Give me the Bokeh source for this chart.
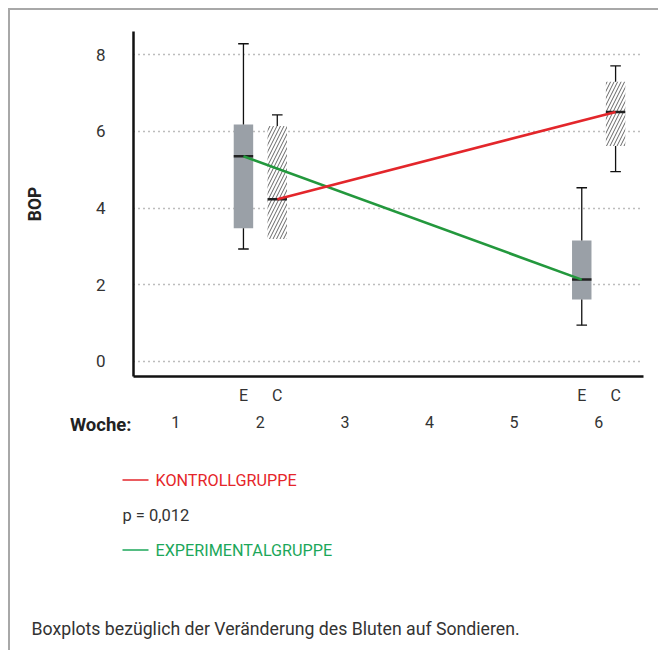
from bokeh.plotting import figure
from bokeh.models import Range1d, LinearAxis, FixedTicker
from bokeh.layouts import column
from bokeh.embed import file_html
from bokeh.resources import INLINE
from bokeh.core.properties import value

# ---------------- data ----------------
weeks = [1, 2, 3, 4, 5, 6]
week_labels = ["1", "2", "3", "4", "5", "6"]
measured_weeks = [2, 6]
group_labels = ["E", "C"]
y_ticks = [0, 2, 4, 6, 8]

# Experimental group (E)
exp_whisker_high = [8.29, 4.53]
exp_q3 = [6.18, 3.15]
exp_median = [5.35, 2.13]
exp_q1 = [3.47, 1.61]
exp_whisker_low = [2.93, 0.94]

# Control group (C)
ctl_whisker_high = [6.43, 7.71]
ctl_q3 = [6.14, 7.30]
ctl_median = [4.23, 6.51]
ctl_q1 = [3.19, 5.62]
ctl_whisker_low = [float("nan"), 4.95]

legend_control = "KONTROLLGRUPPE"
legend_p = "p = 0,012"
legend_exp = "EXPERIMENTALGRUPPE"
caption = "Boxplots bezüglich der Veränderung des Bluten auf Sondieren."
x_title = "Woche:"
y_title = "BOP"

# ---------------- style ----------------
FONT = "Roboto"
TXT = "#333333"
RED = "#e3262b"
GREEN = "#23983d"
RED_T = "#e5252a"
GREEN_T = "#1ca75a"
BOX_GRAY = "#9aa0a7"
OFF = {"E": -0.2, "C": 0.2}
BOX_W = 0.23
CAP_W = 0.125

W = 648
H1 = 440
OVERLAP = 45
H2 = 245

xe = [w + OFF["E"] for w in measured_weeks]
xc = [w + OFF["C"] for w in measured_weeks]

p = figure(width=W, height=H1, x_range=Range1d(0.5, 6.53), y_range=Range1d(-0.40, 8.61),
           output_backend="svg", toolbar_location=None,
           min_border_left=123, min_border_right=15, min_border_top=21, min_border_bottom=74)
p.frame_align = False
p.outline_line_color = None
p.background_fill_color = "white"
p.border_fill_color = "white"

# grid
p.xgrid.visible = False
p.ygrid.ticker = FixedTicker(ticks=y_ticks)
p.ygrid.grid_line_color = "#7a7a7a"
p.ygrid.grid_line_dash = "1 4"
p.ygrid.grid_line_width = 1.3

# y axis
ya = p.yaxis[0]
ya.ticker = FixedTicker(ticks=y_ticks)
ya.major_label_overrides = {t: str(t) for t in y_ticks}
ya.axis_line_color = "#111111"
ya.axis_line_width = 2.5
ya.major_tick_in = 0
ya.major_tick_out = 0
ya.minor_tick_in = 0
ya.minor_tick_out = 0
ya.major_label_standoff = 28
ya.major_label_text_font = FONT
ya.major_label_text_font_size = "17px"
ya.major_label_text_color = TXT
ya.axis_label = y_title
ya.axis_label_text_font = FONT
ya.axis_label_text_font_style = "bold"
ya.axis_label_text_font_size = "17.5px"
ya.axis_label_text_color = "#222222"
ya.axis_label_standoff = 48

# x axis: E / C
xa = p.xaxis[0]
ec_ticks = xe + xc
ec_labels = {}
for x in xe:
    ec_labels[x] = group_labels[0]
for x in xc:
    ec_labels[x] = group_labels[1]
xa.ticker = FixedTicker(ticks=ec_ticks)
xa.major_label_overrides = ec_labels
xa.axis_line_color = "#111111"
xa.axis_line_width = 2.5
xa.major_tick_in = 0
xa.major_tick_out = 0
xa.minor_tick_in = 0
xa.minor_tick_out = 0
xa.major_label_standoff = 9
xa.major_label_text_font = FONT
xa.major_label_text_font_size = "16px"
xa.major_label_text_color = TXT

# x axis: weeks
wa = LinearAxis(ticker=FixedTicker(ticks=weeks),
                major_label_overrides={w: l for w, l in zip(weeks, week_labels)})
wa.axis_line_color = None
wa.major_tick_in = 0
wa.major_tick_out = 0
wa.minor_tick_in = 0
wa.minor_tick_out = 0
wa.major_label_standoff = 8
wa.major_label_text_font = FONT
wa.major_label_text_font_size = "16px"
wa.major_label_text_color = TXT
p.add_layout(wa, "below")

# boxes
p.vbar(x=xe, width=BOX_W, bottom=exp_q1, top=exp_q3, fill_color=BOX_GRAY, line_color=None)
p.vbar(x=xc, width=BOX_W, bottom=ctl_q1, top=ctl_q3, fill_color="white", line_color=None,
       hatch_pattern="/", hatch_color="#666666", hatch_scale=7, hatch_weight=1)

# whiskers
for xs, hi, q3, q1, lo in [(xe, exp_whisker_high, exp_q3, exp_q1, exp_whisker_low),
                           (xc, ctl_whisker_high, ctl_q3, ctl_q1, ctl_whisker_low)]:
    p.segment(x0=xs, y0=q3, x1=xs, y1=hi, line_color="#111111", line_width=1.3)
    p.segment(x0=[x - CAP_W / 2 for x in xs], y0=hi, x1=[x + CAP_W / 2 for x in xs], y1=hi,
              line_color="#111111", line_width=1.3)
    p.segment(x0=xs, y0=q1, x1=xs, y1=lo, line_color="#111111", line_width=1.3)
    p.segment(x0=[x - CAP_W / 2 for x in xs], y0=lo, x1=[x + CAP_W / 2 for x in xs], y1=lo,
              line_color="#111111", line_width=1.3)

# medians
p.segment(x0=[x - BOX_W / 2 for x in xe], y0=exp_median, x1=[x + BOX_W / 2 for x in xe], y1=exp_median,
          line_color="#222222", line_width=2.5)
p.segment(x0=[x - BOX_W / 2 for x in xc], y0=ctl_median, x1=[x + BOX_W / 2 for x in xc], y1=ctl_median,
          line_color="#222222", line_width=2.5)

# trend lines
p.line(x=xe, y=exp_median, line_color=GREEN, line_width=2.6)
p.line(x=xc, y=ctl_median, line_color=RED, line_width=2.6)

# ---------------- overlay: "Woche:", legend, caption ----------------
p2 = figure(width=W, height=H2, x_range=Range1d(0, W), y_range=Range1d(H2, 0),
            output_backend="svg", toolbar_location=None, min_border=0,
            min_border_left=0, min_border_right=0, min_border_top=0, min_border_bottom=0,
            x_axis_location=None, y_axis_location=None)
p2.frame_align = False
p2.grid.visible = False
p2.outline_line_color = None
p2.background_fill_color = None
p2.border_fill_color = None
p2.styles = {"margin-top": f"-{OVERLAP}px"}

p2.text(x=[121], y=[19], text=[x_title], text_color="#222222", text_font=value(FONT),
        text_font_style="bold", text_font_size="18.5px", text_baseline="middle", text_align="right")
p2.segment(x0=[112], y0=[74.5], x1=[138], y1=[74.5], line_color=RED, line_width=1.5)
p2.segment(x0=[112], y0=[144.5], x1=[138], y1=[144.5], line_color=GREEN_T, line_width=1.5)
p2.text(x=[145], y=[75], text=[legend_control], text_color=RED_T, text_font=value(FONT),
        text_font_size="16.2px", text_baseline="middle")
p2.text(x=[112], y=[110], text=[legend_p], text_color=TXT, text_font=value(FONT),
        text_font_size="16.5px", text_baseline="middle")
p2.text(x=[145], y=[145], text=[legend_exp], text_color=GREEN_T, text_font=value(FONT),
        text_font_size="16.2px", text_baseline="middle")
p2.text(x=[21], y=[223], text=[caption], text_color=TXT, text_font=value(FONT),
        text_font_size="17.7px", text_baseline="middle")

layout = column(p, p2, spacing=0)
layout.styles = {"margin-left": "8px", "margin-top": "8px",
                 "border-left": "2px solid #a8a8a8", "border-top": "2px solid #a8a8a8"}

open("out.html", "w").write(file_html(layout, INLINE))
